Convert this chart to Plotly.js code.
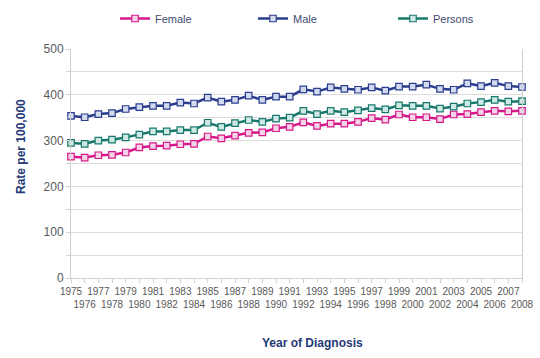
<!DOCTYPE html>
<html>
<head>
<meta charset="utf-8">
<script src="https://cdn.plot.ly/plotly-3.0.1.min.js"></script>
<style>html,body{margin:0;padding:0;background:#fff;}#chart{width:540px;height:358px;}</style>
</head>
<body>
<div id="chart"></div>
<script>
const years = [1975,1976,1977,1978,1979,1980,1981,1982,1983,1984,1985,1986,1987,1988,1989,1990,1991,1992,1993,1994,1995,1996,1997,1998,1999,2000,2001,2002,2003,2004,2005,2006,2007,2008];
const female = [265,263,268,269,274,285,288,289,292,293,309,305,311,317,318,327,330,340,332,337,337,341,349,346,357,351,351,347,357,358,362,365,364,365];
const male = [354,351,358,360,369,373,376,376,383,381,394,385,389,398,389,396,396,412,407,416,413,411,416,409,418,418,422,413,411,425,419,426,419,417];
const persons = [295,293,300,302,307,313,320,320,323,323,339,330,338,345,341,348,350,365,358,365,362,366,371,368,377,376,376,370,374,381,384,389,385,386];
const tickLabels = years.map((y, i) => (i % 2 === 0 ? String(y) : '<br>' + y));

function series(name, y, color, fill, leg) {
  return {
    x: years, y: y, name: name, type: 'scatter', mode: 'lines+markers',
    line: {color: color, width: 2.5},
    marker: {symbol: 'square', size: 6.5, color: fill, line: {color: color, width: 1.2}},
    cliponaxis: false, legend: leg
  };
}
const data = [
  series('Female', female, '#d6198a', '#f6d3e7', 'legend'),
  series('Male', male, '#2b3d8f', '#d3daee', 'legend2'),
  series('Persons', persons, '#17786b', '#cfe9e4', 'legend3')
];
function leg(px) {
  return {orientation: 'h', xref: 'container', yref: 'container', x: px / 540, y: 1 - 4 / 358,
    xanchor: 'left', yanchor: 'top', bgcolor: 'rgba(0,0,0,0)',
    font: {size: 11, color: '#404a6e'}, itemwidth: 30};
}
const layout = {
  width: 540, height: 358,
  margin: {l: 71, r: 18, t: 49, b: 80},
  paper_bgcolor: '#fff', plot_bgcolor: '#fff',
  font: {family: 'Liberation Sans, Arial, sans-serif', size: 10, color: '#595959'},
  showlegend: true,
  legend: leg(115), legend2: leg(253), legend3: leg(393),
  xaxis: {
    range: [1975, 2008], tickmode: 'array', tickvals: years, ticktext: tickLabels,
    showgrid: false, zeroline: false, showline: true, linecolor: '#d0d0d0', linewidth: 1,
    ticks: 'outside', ticklen: 4, tickcolor: '#d0d0d0', tickangle: 0,
    tickfont: {size: 10, color: '#595959'}, fixedrange: true
  },
  yaxis: {
    range: [0, 500], tickmode: 'array', tickvals: [0,50,100,150,200,250,300,350,400,450,500],
    ticktext: ['0','','100','','200','','300','','400','','500'],
    showgrid: true, gridcolor: '#dcdcdc', gridwidth: 1, zeroline: false,
    showline: true, mirror: true, linecolor: '#d0d0d0', linewidth: 1,
    ticks: 'outside', ticklen: 4, tickcolor: '#d0d0d0',
    tickfont: {size: 12, color: '#595959'}, fixedrange: true
  },
  annotations: [
    {text: '<b>Year of Diagnosis</b>', xref: 'paper', yref: 'paper', x: (312-71)/451, y: -(343-278)/229,
     xanchor: 'center', yanchor: 'middle', showarrow: false, font: {size: 12, color: '#263a78'}},
    {text: '<b>Rate per 100,000</b>', xref: 'paper', yref: 'paper', x: -(71-21)/451, y: (278-147)/229,
     xanchor: 'center', yanchor: 'middle', showarrow: false, textangle: -90, font: {size: 12, color: '#263a78'}}
  ]
};
Plotly.newPlot('chart', data, layout, {displayModeBar: false, staticPlot: true});
</script>
</body>
</html>
